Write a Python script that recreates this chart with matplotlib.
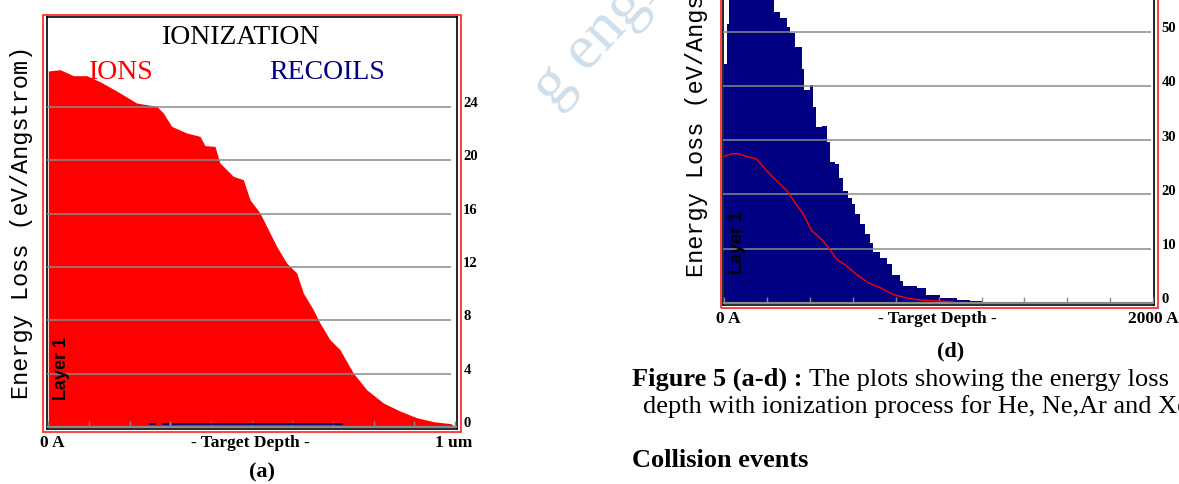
import numpy as np
import matplotlib.pyplot as plt
import matplotlib.patches as patches

W, H = 1179, 484

# panel (a): ionization energy loss, depth in Angstrom, loss in eV/Angstrom
ion_depth = [0, 287, 615, 943, 1270, 1680, 2172, 2664, 2828, 3033, 3402, 3730, 3852, 4098,
             4221, 4549, 4795, 4959, 5205, 5369, 5615, 5861, 6107, 6270, 6516, 6680, 6926,
             7172, 7500, 7828, 8238, 8648, 9057, 9467, 9900, 10000]
ion_loss = [26.7, 26.8, 26.35, 26.35, 25.9, 25.2, 24.3, 24.05, 23.55, 22.55, 22.05, 21.8, 21.1, 21.05,
            19.8, 18.8, 18.55, 17.05, 16.05, 15.05, 13.55, 12.3, 11.55, 10.05, 8.8, 7.8, 6.55,
            5.8, 4.05, 2.8, 1.8, 1.2, 0.7, 0.4, 0.25, 0.0]
recoil_depth = [2500, 2620, 2620, 2820, 2940, 2940, 3070, 7220]
recoil_loss = [0.2, 0.2, np.nan, 0.2, 0.2, np.nan, 0.2, 0.2]
grid_a = [0, 4, 8, 12, 16, 20, 24]
labels_a = [0, 4, 8, 12, 16, 20, 24]

# panel (d): recoils (navy fill) and ions (red line)
blue_depth = [0, 11, 23, 60, 100, 150, 200, 233, 260, 291, 306, 329, 361, 371, 399, 415, 430,
              454, 477, 493, 516, 536, 555, 578, 594, 609, 632, 656, 679, 695, 726, 757, 780,
              819, 834, 897, 943, 1005, 1083, 1145, 1207, 1223]
blue_loss = [44, 51.5, 58, 63, 66, 64, 59, 53.7, 52.5, 50.9, 49.7, 47.2, 43.2, 39.2, 40.1, 36.1, 32.4,
             32.7, 29.6, 25.9, 25.6, 23.1, 20.7, 19.4, 18.2, 16.4, 14.5, 12.7, 11.1, 9.3, 8.3, 7.1, 5.2,
             4.0, 3.1, 2.8, 1.5, 0.9, 0.5, 0.3, 0.1, 0]
red_depth = [0, 34, 65, 104, 151, 190, 228, 260, 291, 329, 368, 407, 446, 485, 524, 570, 617,
             671, 726, 788, 850, 912, 1005, 1068]
red_loss = [27.0, 27.5, 27.5, 27.0, 26.5, 24.7, 23.1, 21.9, 20.7, 18.5, 16.4, 13.3, 12.0, 10.2, 8.0,
            6.8, 5.2, 3.7, 2.8, 1.5, 0.9, 0.5, 0.3, 0.2]
grid_d = [0, 10, 20, 30, 40, 50, 60, 70]
labels_d = [0, 10, 20, 30, 40, 50]   # 60 and 70 sit above the cropped page

SERIF = 'Liberation Serif'
GRID = '#8a8a8a'
NAVY = '#000080'


def rect(x0, y0, x1, y1):
    return [x0 / W, 1 - y1 / H, (x1 - x0) / W, (y1 - y0) / H]


def ftext(x, y, s, **kw):
    return fig.text(x / W, 1 - y / H, s, **kw)


def frame(x0, y0, x1, y1, color, lw):
    fig.add_artist(patches.Rectangle((x0 / W, 1 - y1 / H), (x1 - x0) / W, (y1 - y0) / H,
                                     transform=fig.transFigure, fill=False, ec=color, lw=lw))


def style_axes(ax, levels, labels, xmax, tick_step, tick_h, dx, dy):
    ax.set_xticks([])
    ax.set_yticks([])
    for s in ax.spines.values():
        s.set_color('black')
        s.set_linewidth(1.2)
    ax.hlines(levels[1:], ax.get_xlim()[0], xmax, color=GRID, lw=1.1, zorder=3)
    ax.axhline(0, color=GRID, lw=1.6, zorder=3)
    ax.vlines(np.arange(0, ax.get_xlim()[1], tick_step), 0, tick_h, color=GRID, lw=1.0, zorder=3)
    for v in labels:
        ax.annotate(str(v), xy=(1, v), xycoords=('axes fraction', 'data'),
                    xytext=(dx, dy), textcoords='offset points', ha='left', va='center',
                    family=SERIF, weight='bold', fontsize=10.5, annotation_clip=False)


fig = plt.figure(figsize=(W / 100, H / 100), dpi=100)

# watermark (cut at its left by panel (a)'s white background in the page)
wm = ftext(597, 40, 'g engi', rotation=47, ha='center', va='center', family=SERIF,
           fontsize=46, color='#cfdfeb', zorder=0)
wm.set_clip_path(patches.Rectangle((535 / W, 0), 1, 1, transform=fig.transFigure))

# ---- panel (a)
ax = fig.add_axes(rect(47, 17, 457, 429))
ax.set_xlim(-32, 10050)
ax.set_ylim(-0.15, 30.75)
ax.fill_between(ion_depth, ion_loss, 0, color='red', lw=0, zorder=2)
ax.plot(recoil_depth, recoil_loss, color=NAVY, lw=1.3, zorder=4)
style_axes(ax, grid_a, labels_a, 9900, 1000, 0.45, 4.5, 2.5)
frame(43.5, 14.5, 460.5, 431.5, '#ff3030', 1.3)

ftext(241, 44, 'IONIZATION', ha='center', va='baseline', family=SERIF, fontsize=20)
ftext(121, 79, 'IONS', ha='center', va='baseline', family=SERIF, fontsize=20, color='red')
ftext(327, 79, 'RECOILS', ha='center', va='baseline', family=SERIF, fontsize=20, color=NAVY)
ftext(22, 222, 'Energy Loss (eV/Angstrom)', rotation=90, ha='center', va='center',
      family='Liberation Mono', fontsize=17)
ftext(61, 368, 'Layer 1', rotation=90, ha='center', va='center', family='Liberation Sans',
      weight='bold', fontsize=13)
ftext(40, 447, '0 A', ha='left', va='baseline', family=SERIF, weight='bold', fontsize=12.5)
ftext(250, 447, '- Target Depth -', ha='center', va='baseline', family=SERIF, weight='bold',
      fontsize=12.5)
ftext(472, 447, '1 um', ha='right', va='baseline', family=SERIF, weight='bold', fontsize=12.5)
ftext(262, 472, '(a)', ha='center', va='center', family=SERIF, weight='bold', fontsize=16)

# ---- panel (d)
ax2 = fig.add_axes(rect(723, -107, 1154, 305))
ax2.set_xlim(-6, 2004)
ax2.set_ylim(-0.42, 75.6)
ax2.fill_between(blue_depth, blue_loss, 0, step='post', color=NAVY, lw=0, zorder=2)
ax2.plot(red_depth, red_loss, color='red', lw=1.0, zorder=4)
style_axes(ax2, grid_d, labels_d, 1990, 200, 1.0, 5.5, 2.2)
frame(720.5, -110, 1157.5, 308, '#ff3030', 1.3)

ftext(697, 100, 'Energy Loss (eV/Angstrom)', rotation=90, ha='center', va='center',
      family='Liberation Mono', fontsize=17)
ftext(738, 243, 'Layer 1', rotation=90, ha='center', va='center', family='Liberation Sans',
      weight='bold', fontsize=13)
ftext(716, 323, '0 A', ha='left', va='baseline', family=SERIF, weight='bold', fontsize=12.5)
ftext(937, 323, '- Target Depth -', ha='center', va='baseline', family=SERIF, weight='bold',
      fontsize=12.5)
ftext(1178, 323, '2000 A', ha='right', va='baseline', family=SERIF, weight='bold', fontsize=12.5)
ftext(951, 351, '(d)', ha='center', va='center', family=SERIF, weight='bold', fontsize=16)

# caption (runs past the right edge of the cropped page, as in the source)
cap = ftext(632, 386, 'Figure 5 (a-d) :', ha='left', va='baseline', family=SERIF,
            weight='bold', fontsize=19)
fig.canvas.draw()
x_end = cap.get_window_extent().x1
fig.text((x_end + 6) / W, 1 - 386 / H, 'The plots showing the energy loss', ha='left',
         va='baseline', family=SERIF, fontsize=19)
ftext(643, 413, 'depth with ionization process for He, Ne,Ar and Xe', ha='left', va='baseline',
      family=SERIF, fontsize=19)
ftext(632, 467, 'Collision events', ha='left', va='baseline', family=SERIF, weight='bold',
      fontsize=19)

fig.savefig('out.png', dpi=100)
